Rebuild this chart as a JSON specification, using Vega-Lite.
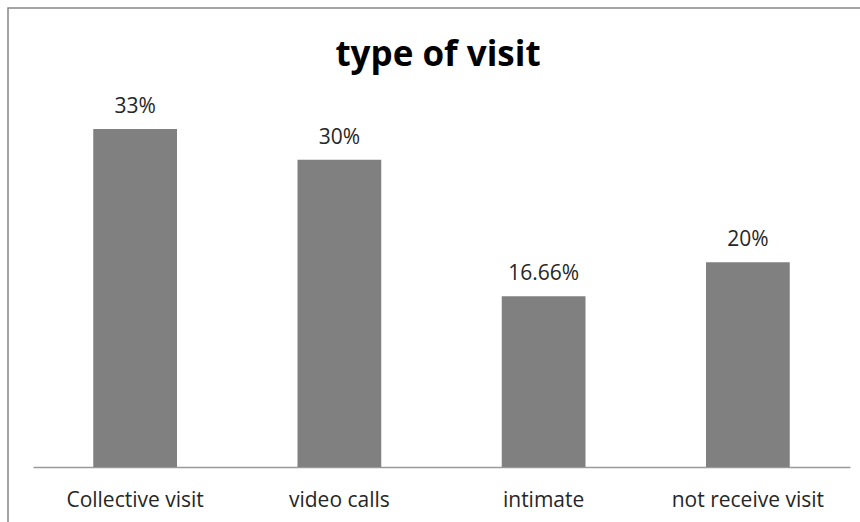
{
  "$schema": "https://vega.github.io/schema/vega-lite/v6.json",
  "autosize": "none",
  "padding": {"left": 8, "top": 8, "right": 0, "bottom": 0},
  "width": 860,
  "height": 522,
  "background": "white",
  "config": {
    "view": {"stroke": "#868686", "strokeWidth": 1.5},
    "font": "Open Sans"
  },
  "title": {
    "text": "type of visit",
    "anchor": "middle",
    "frame": "group",
    "fontSize": 35,
    "fontWeight": "bold",
    "font": "Open Sans",
    "color": "#000000",
    "offset": 0,
    "dy": 65
  },
  "data": {
    "values": [
      {"category": "Collective visit", "value": 33, "label": "33%"},
      {"category": "video calls", "value": 30, "label": "30%"},
      {"category": "intimate", "value": 16.66, "label": "16.66%"},
      {"category": "not receive visit", "value": 20, "label": "20%"}
    ]
  },
  "encoding": {
    "x": {
      "field": "category",
      "type": "nominal",
      "sort": null,
      "scale": {"range": [25, 842], "paddingInner": 0.59, "paddingOuter": 0.295},
      "axis": {
        "title": null,
        "orient": "bottom",
        "offset": -63,
        "labelAngle": 0,
        "ticks": false,
        "domainColor": "#9a9a9a",
        "domainWidth": 1.5,
        "labelFontSize": 21,
        "labelColor": "#262626",
        "labelPadding": 22,
        "labelFont": "Open Sans"
      }
    },
    "y": {
      "field": "value",
      "type": "quantitative",
      "scale": {"domain": [0, 33], "range": [459, 121], "zero": true, "nice": false},
      "axis": null
    }
  },
  "layer": [
    {"mark": {"type": "bar", "color": "#808080"}},
    {
      "mark": {"type": "text", "baseline": "alphabetic", "dy": -16, "fontSize": 21, "color": "#262626", "font": "Open Sans"},
      "encoding": {"text": {"field": "label"}}
    }
  ]
}
